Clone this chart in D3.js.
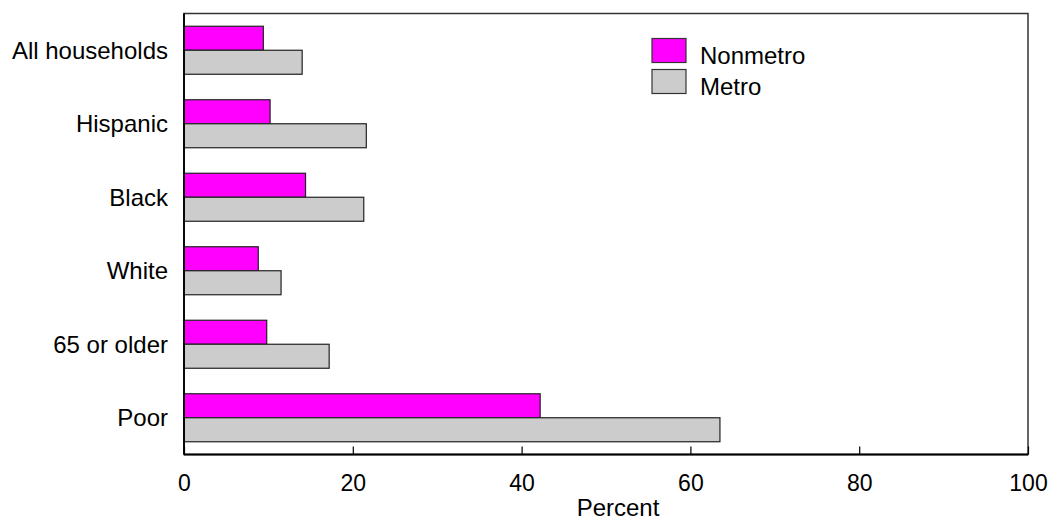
<!DOCTYPE html>
<html><head><meta charset="utf-8">
<script src="https://cdn.jsdelivr.net/npm/d3@7"></script>
<style>body{margin:0;background:#fff}svg{display:block;font-family:"Liberation Sans",Arial,sans-serif}</style>
</head><body><svg id="c" width="1052" height="521"></svg>
<script>
const categories = ["All households","Hispanic","Black","White","65 or older","Poor"];
const nonmetro = [9.4, 10.2, 14.4, 8.8, 9.8, 42.2];
const metro = [14.0, 21.6, 21.3, 11.5, 17.2, 63.5];
const xTicks = [0,20,40,60,80,100];
const seriesNames = ["Nonmetro","Metro"];
const colors = ["#ff00ff","#cccccc"];

const svg = d3.select("#c");
const L=184, R=1028, T=13.5, B=454.5;
const x = d3.scaleLinear().domain([0,100]).range([L,R]);
const y = d3.scaleBand().domain(categories).range([T,B]).padding(0);
const barH = 24;

const series=[nonmetro, metro];
series.forEach((vals,si)=>{
  svg.append("g").selectAll("rect").data(categories).join("rect")
    .attr("x", x(0))
    .attr("y", d=>y(d)+y.bandwidth()/2 - barH + si*barH)
    .attr("width", (d,i)=>x(vals[i])-x(0))
    .attr("height", barH)
    .attr("fill", colors[si])
    .attr("stroke","#222").attr("stroke-width",1.2);
});

// frame
svg.append("rect").attr("x",L).attr("y",T).attr("width",R-L).attr("height",B-T)
  .attr("fill","none").attr("stroke","#333").attr("stroke-width",1.5);
svg.append("line").attr("x1",L).attr("x2",L).attr("y1",T).attr("y2",B).attr("stroke","#000").attr("stroke-width",1.8);
svg.append("line").attr("x1",L).attr("x2",R).attr("y1",B).attr("y2",B).attr("stroke","#000").attr("stroke-width",1.8);

// x axis
const xAxis = d3.axisBottom(x).tickValues(xTicks).tickSize(-8).tickPadding(20).tickFormat(d3.format("d"));
const gx = svg.append("g").attr("transform",`translate(0,${B})`).call(xAxis);
gx.select(".domain").remove();
gx.selectAll(".tick line").attr("stroke","#000").attr("stroke-width",1.2);
gx.selectAll(".tick text").attr("font-size",23).attr("fill","#000").attr("font-family","Liberation Sans, Arial, sans-serif");

// y labels
svg.append("g").selectAll("text").data(categories).join("text")
  .attr("x", L-16).attr("y", d=>y(d)+y.bandwidth()/2)
  .attr("dy","0.35em").attr("text-anchor","end")
  .attr("font-size",24).attr("fill","#000").text(d=>d);

svg.append("text").attr("x",618).attr("y",515.5)
  .attr("text-anchor","middle").attr("font-size",24).text("Percent");

// legend
const lg = svg.append("g");
seriesNames.forEach((n,i)=>{
  lg.append("rect").attr("x",652).attr("y",38.5+i*31).attr("width",34).attr("height",24)
    .attr("fill",colors[i]).attr("stroke","#333").attr("stroke-width",1.2);
  lg.append("text").attr("x",700).attr("y",63.5+i*31).attr("font-size",24).text(n);
});
</script></body></html>
